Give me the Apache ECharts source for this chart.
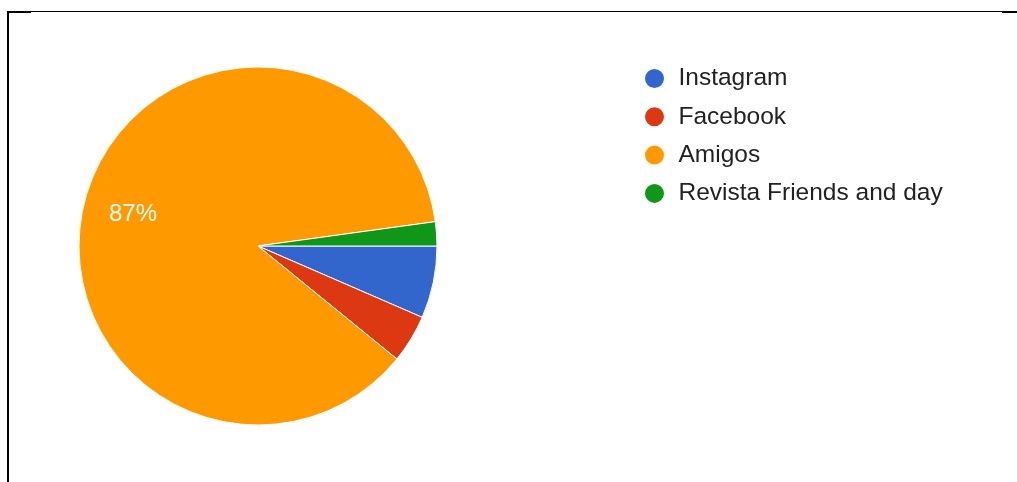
<!DOCTYPE html>
<html>
<head>
<meta charset="utf-8">
<script src="https://cdn.jsdelivr.net/npm/echarts@6/dist/echarts.min.js"></script>
<style>
  html, body { margin: 0; padding: 0; background: #ffffff; }
  #chart { width: 1017px; height: 482px; }
</style>
</head>
<body>
<div id="chart"></div>
<script>
// Where respondents heard about the product (response counts)
const categories = ['Instagram', 'Facebook', 'Amigos', 'Revista Friends and day'];
const counts = [3, 2, 40, 1];
const colors = ['#3366cc', '#dc3912', '#ff9900', '#109618'];
// Only slices at least this share of the total get a percentage label
const labelMinShare = 0.1;

const total = counts.reduce((a, b) => a + b, 0);
const pieData = categories.map((name, i) => ({ name: name, value: counts[i] }));

const chart = echarts.init(document.getElementById('chart'), null, { renderer: 'canvas' });

const center = [258, 246];
const radius = 179;

chart.setOption({
  animation: false,
  backgroundColor: '#ffffff',
  color: colors,
  legend: {
    orient: 'vertical',
    left: 638,
    top: 61,
    icon: 'circle',
    itemWidth: 38,
    itemHeight: 21,
    itemGap: 13.3,
    selectedMode: false,
    data: categories,
    textStyle: {
      fontFamily: 'Liberation Sans, Arial, sans-serif',
      fontSize: 24.5,
      color: '#222222'
    }
  },
  series: [
    {
      type: 'pie',
      center: center,
      radius: [0, radius],
      startAngle: 0,
      clockwise: true,
      percentPrecision: 0,
      silent: true,
      itemStyle: { borderColor: '#ffffff', borderWidth: 1 },
      label: { show: false },
      labelLine: { show: false },
      data: pieData
    },
    {
      // transparent ring used only to place the percentage labels
      type: 'pie',
      center: center,
      radius: [radius * 0.44, radius],
      startAngle: 0,
      clockwise: true,
      percentPrecision: 0,
      silent: true,
      legendHoverLink: false,
      itemStyle: { color: 'rgba(0,0,0,0)', borderWidth: 0 },
      labelLine: { show: false },
      label: {
        show: true,
        position: 'inside',
        offset: [2, 4],
        color: '#ffffff',
        fontFamily: 'Liberation Sans, Arial, sans-serif',
        fontSize: 24,
        formatter: p => (p.value / total >= labelMinShare ? p.percent + '%' : '')
      },
      data: categories.map((name, i) => ({ name: name + ' ', value: counts[i] }))
    }
  ],
  graphic: [
    { type: 'rect', shape: { x: 7, y: 11, width: 1010, height: 1 }, style: { fill: '#000000' } },
    { type: 'rect', shape: { x: 7, y: 11, width: 24, height: 2 }, style: { fill: '#000000' } },
    { type: 'rect', shape: { x: 1002, y: 11, width: 15, height: 2 }, style: { fill: '#000000' } },
    { type: 'rect', shape: { x: 7, y: 11, width: 2, height: 471 }, style: { fill: '#000000' } }
  ]
});
</script>
</body>
</html>
